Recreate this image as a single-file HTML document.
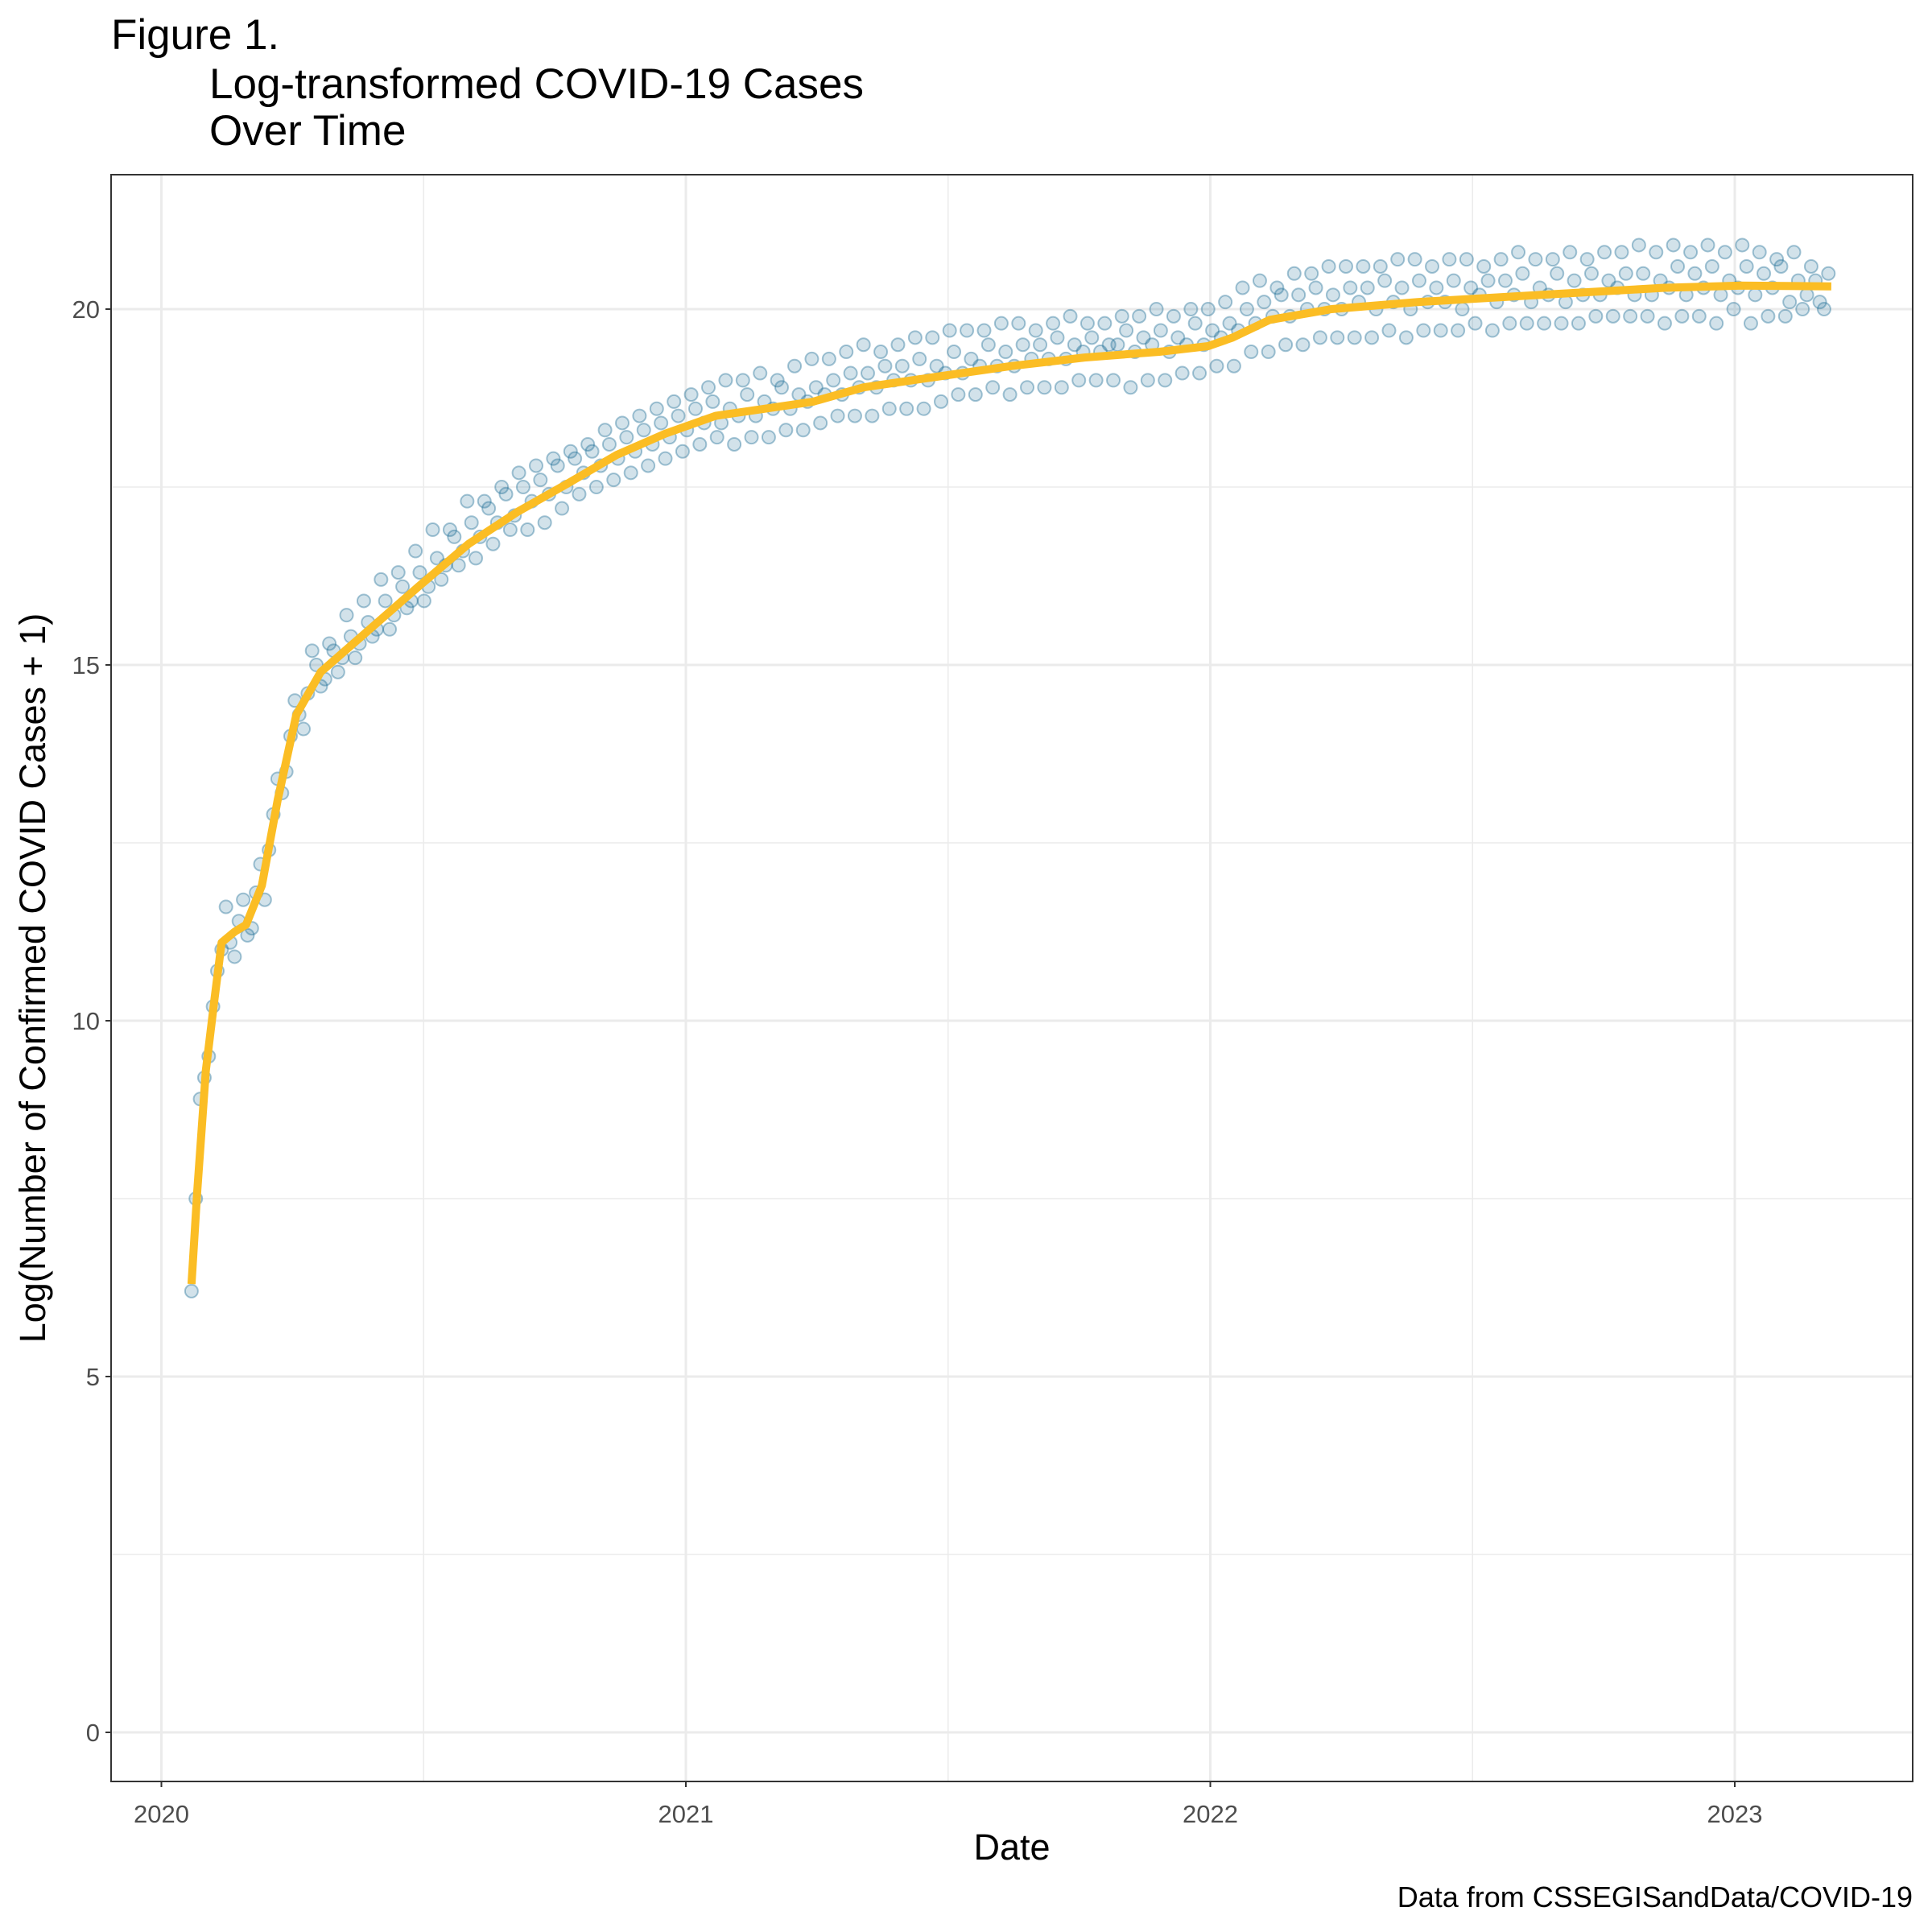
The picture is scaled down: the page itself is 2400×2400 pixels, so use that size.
<!DOCTYPE html>
<html><head><meta charset="utf-8"><style>
html,body{margin:0;padding:0;background:#fff;}
svg{display:block;font-family:"Liberation Sans",Arial,sans-serif;}
</style></head><body>
<svg id="chart" width="2400" height="2400" viewBox="0 0 2400 2400" xmlns="http://www.w3.org/2000/svg">
<text x="138" y="61" font-size="53" fill="#000">Figure 1.</text>
<text x="260" y="122" font-size="53" fill="#000">Log-transformed COVID-19 Cases</text>
<text x="260" y="180" font-size="53" fill="#000">Over Time</text>
<g id="grid"></g>
<g id="points"></g>
<g id="trend"></g>
<rect x="138" y="217" width="2238" height="1996" fill="none" stroke="#333" stroke-width="2"/>
<g id="axes"></g>
<text transform="translate(56,1215) rotate(-90)" text-anchor="middle" font-size="45" fill="#000">Log(Number of Confirmed COVID Cases + 1)</text>
<text x="1257" y="2310" text-anchor="middle" font-size="45" fill="#000">Date</text>
<text x="2376" y="2369" text-anchor="end" font-size="36" fill="#000">Data from CSSEGISandData/COVID-19</text>
</svg>
<script>
// Data
const yTicks = [0, 5, 10, 15, 20];
const yTickLabels = ["0", "5", "10", "15", "20"];
const yMinorTicks = [2.5, 7.5, 12.5, 17.5];
const xTickYears = [2020, 2021, 2022, 2023];
const xTickLabels = ["2020", "2021", "2022", "2023"];
const xMinorYears = [2020.5, 2021.5, 2022.5];
// scatter: one value every 6 days starting 2020-01-22
const pointStepDays = 6;
const pointValues = [6.2,8.9,9.5,10.7,11.6,10.9,11.7,11.3,12.2,12.4,13.4,13.5,14.5,14.1,15.2,14.7,15.3,14.9,15.7,15.1,15.9,15.4,16.2,15.5,16.3,15.8,16.6,15.9,16.9,16.2,16.9,16.4,17.3,16.5,17.3,16.7,17.5,16.9,17.7,16.9,17.8,17.0,17.9,17.2,18.0,17.4,18.1,17.5,18.3,17.6,18.4,17.7,18.5,17.8,18.6,17.9,18.7,18.0,18.8,18.1,18.9,18.2,19.0,18.1,19.0,18.2,19.1,18.2,19.0,18.3,19.2,18.3,19.3,18.4,19.3,18.5,19.4,18.5,19.5,18.5,19.4,18.6,19.5,18.6,19.6,18.6,19.6,18.7,19.7,18.8,19.7,18.8,19.7,18.9,19.8,18.8,19.8,18.9,19.7,18.9,19.8,18.9,19.9,19.0,19.8,19.0,19.8,19.0,19.9,18.9,19.9,19.0,20.0,19.0,19.9,19.1,20.0,19.1,20.0,19.2,20.1,19.2,20.3,19.4,20.4,19.4,20.3,19.5,20.5,19.5,20.5,19.6,20.6,19.6,20.6,19.6,20.6,19.6,20.6,19.7,20.7,19.6,20.7,19.7,20.6,19.7,20.7,19.7,20.7,19.8,20.6,19.7,20.7,19.8,20.8,19.8,20.7,19.8,20.7,19.8,20.8,19.8,20.7,19.9,20.8,19.9,20.8,19.9,20.9,19.9,20.8,19.8,20.9,19.9,20.8,19.9,20.9,19.8,20.8,20.0,20.9,19.8,20.8,19.9,20.7,19.9,20.8,20.0,20.6,20.1,20.5];
// second scatter series: values every 6 days starting day 3
const midOffsetDays = 3;
const pointValuesMid = [7.5,9.2,10.2,11.0,11.1,11.4,11.2,11.8,11.7,12.9,13.2,14.0,14.3,14.6,15.0,14.8,15.2,15.1,15.4,15.3,15.6,15.5,15.9,15.7,16.1,15.9,16.3,16.1,16.5,16.4,16.8,16.6,17.0,16.8,17.2,17.0,17.4,17.1,17.5,17.3,17.6,17.4,17.8,17.5,17.9,17.7,18.0,17.8,18.1,17.9,18.2,18.0,18.3,18.1,18.4,18.2,18.5,18.3,18.6,18.4,18.7,18.4,18.6,18.5,18.8,18.5,18.7,18.6,18.9,18.6,18.8,18.7,18.9,18.8,19.0,18.8,19.1,18.9,19.1,18.9,19.2,19.0,19.2,19.0,19.3,19.0,19.2,19.1,19.4,19.1,19.3,19.2,19.5,19.2,19.4,19.2,19.5,19.3,19.5,19.3,19.6,19.3,19.5,19.4,19.6,19.4,19.5,19.5,19.7,19.4,19.6,19.5,19.7,19.4,19.6,19.5,19.8,19.5,19.7,19.6,19.8,19.7,20.0,19.8,20.1,19.9,20.2,19.9,20.2,20.0,20.3,20.0,20.2,20.0,20.3,20.1,20.3,20.0,20.4,20.1,20.3,20.0,20.4,20.1,20.3,20.1,20.4,20.0,20.3,20.2,20.4,20.1,20.4,20.2,20.5,20.1,20.3,20.2,20.5,20.1,20.4,20.2,20.5,20.2,20.4,20.3,20.5,20.2,20.5,20.2,20.4,20.3,20.6,20.2,20.5,20.3,20.6,20.2,20.4,20.3,20.6,20.2,20.5,20.3,20.6,20.1,20.4,20.2,20.4,20.0];
// smoothed trend knots (day offset from 2020-01-22, value)
const trendDays = [0,4,10,16,21,30,38,49,60,73,90,124,158,193,227,262,296,330,365,399,433,468,519,571,622,674,708,725,751,794,854,940,1026,1078,1142];
const trendValues = [6.3,7.6,9.3,10.3,11.1,11.25,11.35,11.9,13.1,14.3,14.9,15.5,16.1,16.7,17.15,17.55,17.95,18.25,18.5,18.6,18.7,18.9,19.05,19.2,19.32,19.4,19.48,19.6,19.85,20.0,20.1,20.2,20.3,20.33,20.32];

const NS = "http://www.w3.org/2000/svg";
const PX0 = 138, PX1 = 2376, PY0 = 217, PY1 = 2213;
function yScale(v){ return 2152 + (384 - 2152) * v / 20; }
function xYear(y){ return 200.5 + (y - 2020) * 651.5; }
const startYearFrac = 2020 + 21/366;
function xDay(d){ return xYear(startYearFrac) + d * 651.5 / 365.25; }
function mk(tag, attrs){ const e = document.createElementNS(NS, tag); for (const k in attrs) e.setAttribute(k, attrs[k]); return e; }

const grid = document.getElementById('grid');
yMinorTicks.forEach(v => {
  const l = mk('line', {x1:PX0, x2:PX1, y1:yScale(v), y2:yScale(v), stroke:'#ebebeb', 'stroke-width':1.5});
  
  
  grid.appendChild(l);
});
xMinorYears.forEach(v => {
  const l = mk('line', {x1:xYear(v), x2:xYear(v), y1:PY0, y2:PY1, stroke:'#ebebeb', 'stroke-width':1.5});
  
  
  grid.appendChild(l);
});
yTicks.forEach(v => {
  const l = mk('line', {x1:PX0, x2:PX1, y1:yScale(v), y2:yScale(v), stroke:'#ebebeb', 'stroke-width':3});
  
  
  grid.appendChild(l);
});
xTickYears.forEach(v => {
  const l = mk('line', {x1:xYear(v), x2:xYear(v), y1:PY0, y2:PY1, stroke:'#ebebeb', 'stroke-width':3});
  
  
  grid.appendChild(l);
});

const pts = document.getElementById('points');
function addPoint(day, v){
  const c = mk('circle', {cx:xDay(day), cy:yScale(v), r:8, fill:'rgba(30,110,150,0.2)', stroke:'rgba(30,110,150,0.4)', 'stroke-width':2});
  
  
  pts.appendChild(c);
}
pointValues.forEach((v, i) => addPoint(i*pointStepDays, v));
pointValuesMid.forEach((v, i) => addPoint(midOffsetDays + i*pointStepDays, v));

const tr = document.getElementById('trend');
let d = '';
trendDays.forEach((t, i) => { d += (i ? 'L' : 'M') + xDay(t).toFixed(1) + ',' + yScale(trendValues[i]).toFixed(1); });
const path = mk('path', {d:d, fill:'none', stroke:'#fbbd24', 'stroke-width':10, 'stroke-linejoin':'round', 'stroke-linecap':'butt'});


tr.appendChild(path);

const axes = document.getElementById('axes');
yTicks.forEach((v, i) => {
  const t = mk('line', {x1:PX0-7, x2:PX0, y1:yScale(v), y2:yScale(v), stroke:'#333', 'stroke-width':2});
  
  
  axes.appendChild(t);
  const tx = mk('text', {x:PX0-14, y:yScale(v)+11, 'text-anchor':'end', 'font-size':31, fill:'#4d4d4d'});
  tx.textContent = yTickLabels[i];
  
  
  axes.appendChild(tx);
});
xTickYears.forEach((v, i) => {
  const t = mk('line', {x1:xYear(v), x2:xYear(v), y1:PY1, y2:PY1+7, stroke:'#333', 'stroke-width':2});
  
  
  axes.appendChild(t);
  const tx = mk('text', {x:xYear(v), y:2264, 'text-anchor':'middle', 'font-size':31, fill:'#4d4d4d'});
  tx.textContent = xTickLabels[i];
  
  
  axes.appendChild(tx);
});
</script>
</body></html>
